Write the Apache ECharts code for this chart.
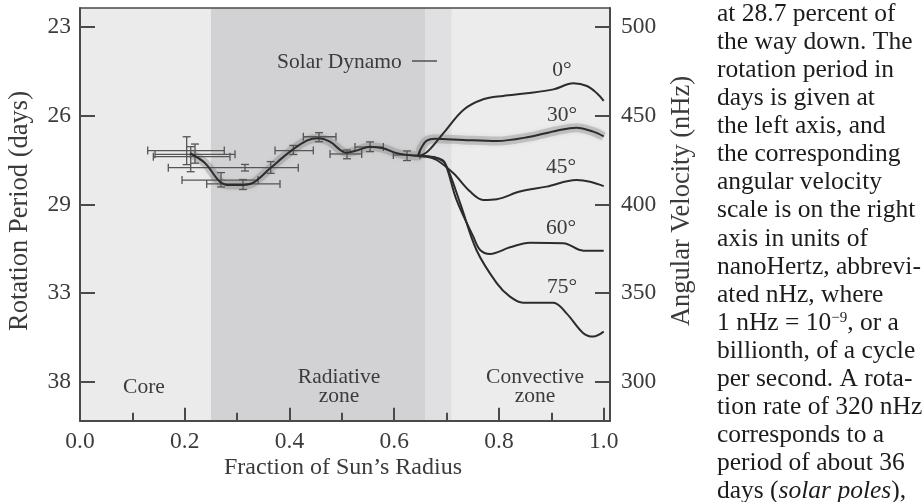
<!DOCTYPE html>
<html>
<head>
<meta charset="utf-8">
<script src="https://cdn.jsdelivr.net/npm/echarts@6/dist/echarts.min.js"></script>
<style>
  html, body { margin: 0; padding: 0; background: #ffffff; }
  #chart { width: 923px; height: 502px; }
</style>
</head>
<body>
<div id="chart"></div>
<script>
// ---- Data -------------------------------------------------------------
// Zone boundaries (fraction of solar radius)
const zoneBounds = [0, 0.25, 0.66, 0.71, 1.012];

// Axis ticks: angular velocity (nHz) and matching rotation periods (days)
const omegaTicks   = [300, 350, 400, 450, 500];
const periodLabels = ['38', '33', '29', '26', '23'];
const radiusLabels = [0, 0.2, 0.4, 0.6, 0.8, 1.0];
const radiusMajor  = [0.2, 0.4, 0.6, 0.8, 1.0];
const radiusMinor  = [0.1, 0.3, 0.5, 0.7, 0.9];

// Inner rotation profile (radius, nHz)
const interiorRadius = [0.210, 0.239, 0.267, 0.286, 0.312, 0.331, 0.363, 0.401, 0.433, 0.455, 0.477, 0.509, 0.528, 0.554, 0.579, 0.605, 0.627, 0.645];
const interiorOmega  = [428.8, 423.2, 412.8, 410.9, 410.9, 412.2, 420.3, 429.7, 435.9, 437.2, 435.3, 429.1, 430.3, 432.5, 431.6, 428.8, 427.8, 427.3];

// Convective-zone profiles by latitude
const lat0Radius  = [0.645, 0.655, 0.668, 0.694, 0.732, 0.770, 0.808, 0.853, 0.904, 0.942, 0.968, 0.987, 1.000];
const lat0Omega   = [427.3, 428.0, 431.0, 440.1, 453.2, 459.2, 461.1, 462.6, 464.8, 468.2, 466.7, 462.6, 458.3];
const lat30Radius = [0.645, 0.652, 0.662, 0.678, 0.732, 0.796, 0.859, 0.910, 0.948, 0.980, 1.000];
const lat30Omega  = [427.3, 432.0, 435.9, 437.0, 436.3, 435.7, 438.1, 441.5, 443.2, 441.0, 438.3];
const lat45Radius = [0.645, 0.660, 0.681, 0.713, 0.745, 0.770, 0.796, 0.840, 0.891, 0.948, 0.974, 1.000];
const lat45Omega  = [427.3, 427.0, 425.0, 417.5, 407.2, 402.5, 402.9, 407.2, 410.0, 413.7, 412.8, 410.3];
const lat60Radius = [0.645, 0.662, 0.682, 0.696, 0.719, 0.751, 0.764, 0.783, 0.821, 0.859, 0.923, 0.961, 1.000];
const lat60Omega  = [427.3, 427.1, 426.2, 423.8, 402.5, 381.8, 374.3, 372.1, 375.8, 378.4, 378.1, 373.9, 373.9];
const lat75Radius = [0.645, 0.664, 0.684, 0.698, 0.726, 0.757, 0.796, 0.821, 0.846, 0.904, 0.929, 0.961, 0.980, 1.000];
const lat75Omega  = [427.3, 427.0, 425.8, 422.6, 400.6, 374.3, 355.5, 348.0, 344.6, 344.6, 338.6, 327.4, 325.5, 328.3];

// Measured points with radial and angular-velocity error bars
const ptRadius   = [0.2037, 0.2196, 0.2114, 0.2692, 0.3113, 0.3150, 0.3641, 0.4073, 0.4564, 0.5098, 0.5538, 0.6244];
const ptOmega    = [430.3, 428.2, 426.9, 413.7, 411.5, 420.7, 420.8, 430.3, 438.1, 428.4, 432.3, 427.8];
const ptRadiusLo = [0.1293, 0.1432, 0.1400, 0.1948, 0.2419, 0.1686, 0.3641, 0.3724, 0.4264, 0.4774, 0.5251, 0.5983];
const ptRadiusHi = [0.2755, 0.2960, 0.2864, 0.3400, 0.3819, 0.4168, 0.3641, 0.4455, 0.4888, 0.5379, 0.5792, 0.6492];
const ptOmegaLo  = [422.4, 423.2, 418.4, 409.8, 408.4, 418.8, 417.5, 428.1, 435.3, 425.7, 429.7, 424.7];
const ptOmegaHi  = [438.1, 434.0, 432.5, 417.9, 414.0, 422.5, 424.1, 433.2, 440.4, 430.6, 435.2, 430.1];

// ---- Helpers ----------------------------------------------------------
const pairs = (xs, ys) => xs.map((x, i) => [x, ys[i]]);
const interior = pairs(interiorRadius, interiorOmega);
const shadeTrack = interior.concat(pairs(lat30Radius, lat30Omega).slice(1));
const errorRows = ptRadius.map((r, i) => [r, ptOmega[i], ptRadiusLo[i], ptRadiusHi[i], ptOmegaLo[i], ptOmegaHi[i]]);

const SERIF = 'Liberation Serif';
const INK = '#3b3b3b';
const AXIS = '#4a4a4a';
const zoneFill = ['#ebebeb', '#d2d2d4', '#e0e0e2', '#ececec'];

const Y_MIN = 278.1, Y_MAX = 510.65;
const X_MIN = 0, X_MAX = 1.012;

const lineSeries = (data, z) => ({
  type: 'line', data, smooth: 0.35, showSymbol: false, symbol: 'none', silent: true, z,
  lineStyle: { color: '#2c2c2c', width: 2 }
});

const chart = echarts.init(document.getElementById('chart'), null, { renderer: 'canvas' });

const paragraph = [
  'at 28.7 percent of',
  'the way down. The',
  'rotation period in',
  'days is given at',
  'the left axis, and',
  'the corresponding',
  'angular velocity',
  'scale is on the right',
  'axis in units of',
  'nanoHertz, abbrevi-',
  'ated nHz, where',
  '1 nHz = 10{sup|\u22129}, or a',
  'billionth, of a cycle',
  'per second. A rota-',
  'tion rate of 320 nHz',
  'corresponds to a',
  'period of about 36',
  'days ({it|solar poles}),'
];

const txt = (text, x, y, size, extra) => ({
  type: 'text', x, y, z: 50, silent: true,
  style: Object.assign({ text, fontFamily: SERIF, fontSize: size, fill: INK, align: 'center', verticalAlign: 'middle' }, extra || {})
});

const graphics = [
  Object.assign(txt('Rotation Period (days)', 20, 211, 26.5), { rotation: Math.PI / 2 }),
  Object.assign(txt('Angular Velocity (nHz)', 682, 201, 26.5), { rotation: Math.PI / 2 }),
  txt('Fraction of Sun\u2019s Radius', 343, 468, 24),
  txt('Core', 144, 387, 21.5),
  txt('Radiative', 339, 377, 21.5),
  txt('zone', 339, 396, 21.5),
  txt('Convective', 535, 377, 21.5),
  txt('zone', 535, 396, 21.5),
  txt('Solar Dynamo', 277, 62, 21.5, { align: 'left' }),
  { type: 'line', z: 50, silent: true, shape: { x1: 412, y1: 61, x2: 437, y2: 61 }, style: { stroke: INK, lineWidth: 1.3 } },
  txt('0\u00b0', 562, 70, 21.5),
  txt('30\u00b0', 562, 115, 21.5),
  txt('45\u00b0', 561, 167, 21.5),
  txt('60\u00b0', 561, 228, 21.5),
  txt('75\u00b0', 562, 287, 21.5)
];
paragraph.forEach((line, i) => {
  graphics.push({
    type: 'text', x: 717, y: 14 + 28.1 * i, z: 50, silent: true,
    style: {
      text: line, fontFamily: SERIF, fontSize: 25.5, fill: '#1c1c1c',
      align: 'left', verticalAlign: 'middle',
      rich: {
        sup: { fontFamily: SERIF, fontSize: 15, fill: '#1c1c1c', verticalAlign: 'top', padding: [0, 0, 10, 0] },
        it: { fontFamily: SERIF, fontSize: 25.5, fill: '#1c1c1c', fontStyle: 'italic' }
      }
    }
  });
});

const zoneAreas = zoneFill.map((c, i) => [
  { xAxis: zoneBounds[i], itemStyle: { color: c } },
  { xAxis: zoneBounds[i + 1] }
]);

const option = {
  animation: false,
  backgroundColor: '#ffffff',
  grid: { left: 80, top: 8, width: 530, height: 412.7, containLabel: false },
  xAxis: [
    {
      type: 'value', min: X_MIN, max: X_MAX, position: 'bottom', z: 10,
      axisLine: { show: true, onZero: false, lineStyle: { color: AXIS, width: 2 } },
      axisTick: { show: true, inside: true, length: 13, customValues: radiusMajor, lineStyle: { color: AXIS, width: 2 } },
      axisLabel: { customValues: radiusLabels, formatter: v => v.toFixed(1), margin: 9, fontFamily: SERIF, fontSize: 23.5, color: INK },
      splitLine: { show: false }
    },
    {
      type: 'value', min: X_MIN, max: X_MAX, position: 'bottom', z: 10,
      axisLine: { show: false, onZero: false },
      axisTick: { show: true, inside: true, length: 8, customValues: radiusMinor, lineStyle: { color: AXIS, width: 2 } },
      axisLabel: { show: false },
      splitLine: { show: false }
    },
    {
      type: 'value', min: X_MIN, max: X_MAX, position: 'top', z: 10,
      axisLine: { show: true, onZero: false, lineStyle: { color: AXIS, width: 1.5 } },
      axisTick: { show: false }, axisLabel: { show: false }, splitLine: { show: false }
    }
  ],
  yAxis: [
    {
      type: 'value', min: Y_MIN, max: Y_MAX, position: 'left', z: 10,
      axisLine: { show: true, onZero: false, lineStyle: { color: AXIS, width: 2 } },
      axisTick: { show: true, inside: true, length: 15, customValues: omegaTicks, lineStyle: { color: AXIS, width: 2 } },
      axisLabel: {
        customValues: omegaTicks, margin: 9, fontFamily: SERIF, fontSize: 23.5, color: INK,
        formatter: v => periodLabels[omegaTicks.indexOf(v)]
      },
      splitLine: { show: false }
    },
    {
      type: 'value', min: Y_MIN, max: Y_MAX, position: 'right', z: 10,
      axisLine: { show: true, onZero: false, lineStyle: { color: AXIS, width: 2 } },
      axisTick: { show: true, inside: true, length: 15, customValues: omegaTicks, lineStyle: { color: AXIS, width: 2 } },
      axisLabel: { customValues: omegaTicks, margin: 11, fontFamily: SERIF, fontSize: 23.5, color: INK },
      splitLine: { show: false }
    }
  ],
  series: [
    {
      // zone shading behind everything
      type: 'line', data: interior, silent: true, showSymbol: false, symbol: 'none', z: 0,
      lineStyle: { opacity: 0 },
      markArea: { silent: true, data: zoneAreas }
    },
    {
      // uncertainty band along the inner profile and the 30 degree branch
      type: 'line', data: shadeTrack, smooth: 0.35, silent: true, showSymbol: false, symbol: 'none', z: 1,
      lineStyle: { color: 'rgba(120,120,120,0.32)', width: 9, shadowBlur: 4, shadowColor: 'rgba(120,120,120,0.4)' }
    },
    {
      type: 'custom', data: errorRows, z: 3, silent: true,
      encode: { x: 0, y: 1 },
      renderItem: (params, api) => {
        const r = api.value(0), w = api.value(1);
        const c = api.coord([r, w]);
        const xl = api.coord([api.value(2), w]);
        const xh = api.coord([api.value(3), w]);
        const yl = api.coord([r, api.value(4)]);
        const yh = api.coord([r, api.value(5)]);
        const cap = 4;
        const style = { stroke: '#555555', lineWidth: 1.3 };
        const seg = (x1, y1, x2, y2) => ({ type: 'line', shape: { x1, y1, x2, y2 }, style });
        const kids = [];
        if (xh[0] - xl[0] > 1) {
          kids.push(seg(xl[0], c[1], xh[0], c[1]));
          kids.push(seg(xl[0], c[1] - cap, xl[0], c[1] + cap));
          kids.push(seg(xh[0], c[1] - cap, xh[0], c[1] + cap));
        }
        if (yl[1] - yh[1] > 1) {
          kids.push(seg(c[0], yl[1], c[0], yh[1]));
          kids.push(seg(c[0] - cap, yl[1], c[0] + cap, yl[1]));
          kids.push(seg(c[0] - cap, yh[1], c[0] + cap, yh[1]));
        }
        return { type: 'group', children: kids };
      }
    },
    lineSeries(interior, 4),
    lineSeries(pairs(lat0Radius, lat0Omega), 4),
    lineSeries(pairs(lat30Radius, lat30Omega), 4),
    lineSeries(pairs(lat45Radius, lat45Omega), 4),
    lineSeries(pairs(lat60Radius, lat60Omega), 4),
    lineSeries(pairs(lat75Radius, lat75Omega), 4)
  ],
  graphic: { elements: graphics }
};

chart.setOption(option);
</script>
</body>
</html>
